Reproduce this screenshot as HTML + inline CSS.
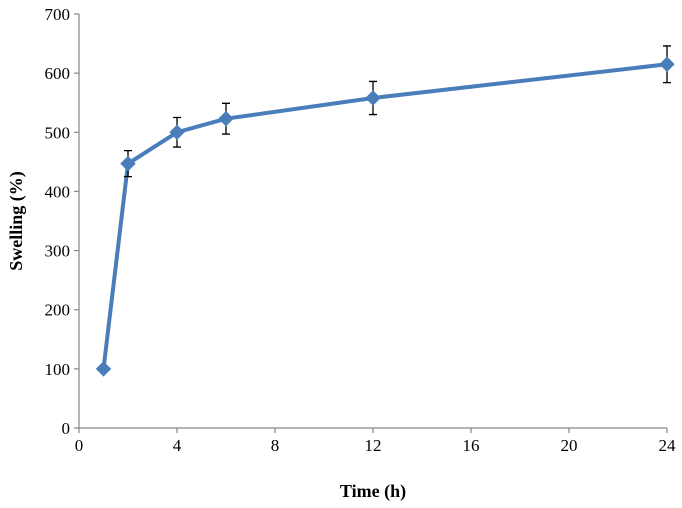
<!DOCTYPE html>
<html><head><meta charset="utf-8"><style>
html,body{margin:0;padding:0;background:#fff;}
svg{display:block;font-family:"Liberation Serif",serif;}
</style></head><body>
<svg id="chart" width="682" height="508"></svg>
<script>
const xValues=[1,2,4,6,12,24];
const yValues=[100,447,500,523,558,615];
const errValues=[2,22,25,26,28,31];
const xTicks=[0,4,8,12,16,20,24];
const yTicks=[0,100,200,300,400,500,600,700];
const NS="http://www.w3.org/2000/svg";
const svg=document.getElementById('chart');
const X0=79,X1=667,Y0=428,Y1=14;
const sx=v=>X0+(v-0)/(24-0)*(X1-X0);
const sy=v=>Y0-(v-0)/(700-0)*(Y0-Y1);
function mk(tag,attrs,parent){const e=document.createElementNS(NS,tag);for(const k in attrs)e.setAttribute(k,attrs[k]);(parent||svg).appendChild(e);return e;}
const axes=mk('g',{});


const ya=mk('line',{x1:X0,y1:Y1,x2:X0,y2:Y0,stroke:'#868686','stroke-width':1.2},axes);


const xa=mk('line',{x1:X0,y1:Y0,x2:X1,y2:Y0,stroke:'#868686','stroke-width':1.2},axes);


yTicks.forEach(t=>{
  const y=sy(t);
  const l=mk('line',{x1:X0-5,y1:y,x2:X0,y2:y,stroke:'#868686','stroke-width':1.2},axes);
  
  
  const tx=mk('text',{x:X0-9,y:y+6,'text-anchor':'end','font-size':17,fill:'#000'},axes);
  tx.textContent=t;
  
  
});
xTicks.forEach(t=>{
  const x=sx(t);
  const l=mk('line',{x1:x,y1:Y0,x2:x,y2:Y0+5,stroke:'#868686','stroke-width':1.2},axes);
  
  
  const tx=mk('text',{x:x,y:Y0+23,'text-anchor':'middle','font-size':17,fill:'#000'},axes);
  tx.textContent=t;
  
  
});
const xt=mk('text',{x:(X0+X1)/2,y:497,'text-anchor':'middle','font-size':18,'font-weight':'bold'});
xt.textContent='Time (h)';


const yt=mk('text',{x:0,y:0,'text-anchor':'middle','font-size':18,'font-weight':'bold',transform:'translate(22,'+((Y0+Y1)/2)+') rotate(-90)'});
yt.textContent='Swelling (%)';


const series=mk('g',{});


const pts=xValues.map((v,i)=>sx(v)+','+sy(yValues[i])).join(' ');
const line=mk('polyline',{points:pts,fill:'none',stroke:'#4a7ebb','stroke-width':4,'stroke-linejoin':'round'},series);


xValues.forEach((v,i)=>{
  const x=sx(v),y=sy(yValues[i]),yt=sy(yValues[i]+errValues[i]),yb=sy(yValues[i]-errValues[i]);
  const eb=mk('path',{d:`M${x},${yt}V${yb}M${x-4},${yt}H${x+4}M${x-4},${yb}H${x+4}`,stroke:'#000','stroke-width':1.3,fill:'none'},series);
  
  
  const d=mk('polygon',{points:`${x},${y-7} ${x+7},${y} ${x},${y+7} ${x-7},${y}`,fill:'#4a7ebb',stroke:'#4a7ebb'},series);
  
  
});
</script>
</body></html>
